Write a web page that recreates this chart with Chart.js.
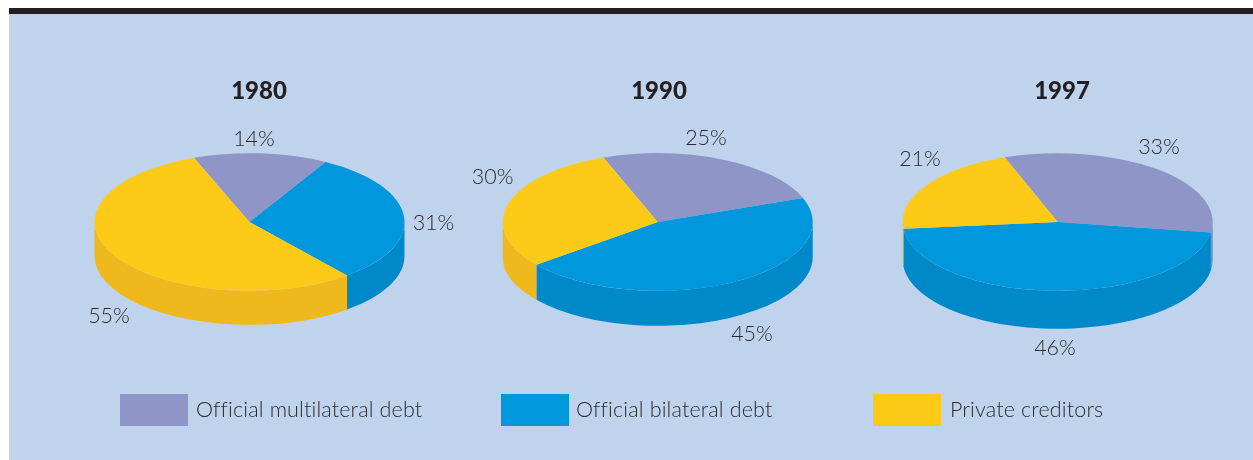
<!DOCTYPE html>
<html>
<head>
<meta charset="utf-8">
<title>Debt by creditor type</title>
<script src="https://cdn.jsdelivr.net/npm/chart.js@4/dist/chart.umd.min.js"></script>
<style>
  html, body { margin: 0; padding: 0; background: #fff; }
  #page { position: relative; width: 1253px; height: 460px; overflow: hidden; background: #fff; }
  #rule { position: absolute; left: 9px; top: 8px; right: 0; height: 6px; background: #231f20; }
  #panel { position: absolute; left: 9px; top: 14px; right: 0; bottom: 0; background: #bfd3ec; }
  canvas { position: absolute; top: 0; }
  .swatch { position: absolute; top: 394px; width: 68px; height: 32px; }
  .legend-label { position: absolute; top: 395px; font: 300 21.5px/28px Lato, sans-serif; font-variant-ligatures: none; letter-spacing: 0.15px; color: #2b2b2b; white-space: nowrap; }
</style>
</head>
<body>
<div id="page">
  <div id="rule"></div>
  <div id="panel"></div>
  <canvas id="pie1980" width="408" height="460" style="left:50px"></canvas>
  <canvas id="pie1990" width="400" height="460" style="left:458px"></canvas>
  <canvas id="pie1997" width="395" height="460" style="left:858px"></canvas>
  <div id="legend"></div>
</div>

<script>
const categories = ["Official multilateral debt", "Official bilateral debt", "Private creditors"];
const years = ["1980", "1990", "1997"];
const values1980 = [14, 31, 55];
const values1990 = [25, 45, 30];
const values1997 = [33, 46, 21];

const topColors = ["#9095c8", "#0097dc", "#feca18"];
const sideColors = ["#8387bb", "#0089c8", "#efb81c"];
const TEXT_COLOR = "#2b2b2b";

const RADIUS = 155;
const SQUASH = 0.444;
const CENTER_Y = 222;

// cellLeft = canvas left edge, labelOffsets = label centres relative to the pie centre
const pies = [
  { id: "pie1980", year: years[0], values: values1980, cellLeft: 50, cellWidth: 408, centerX: 249.5, rotation: -21, depth: 34,
    titleX: 259, labelOffsets: [[4.5, -83], [184, 1], [-140.5, 94]] },
  { id: "pie1990", year: years[1], values: values1990, cellLeft: 458, cellWidth: 400, centerX: 657.7, rotation: -20.5, depth: 35,
    titleX: 659, labelOffsets: [[48.3, -84], [94.3, 112], [-165, -45]] },
  { id: "pie1997", year: years[2], values: values1997, cellLeft: 858, cellWidth: 395, centerX: 1057.7, rotation: -20, depth: 38,
    titleX: 1062, labelOffsets: [[101.3, -75], [-2.7, 126], [-137.7, -63]] },
];

// draws the pie wall under the top face, only the part of each slice facing the viewer
function drawWall(ctx, arc, color, depth) {
  const { x, y, outerRadius, startAngle, endAngle } = arc.getProps(["x", "y", "outerRadius", "startAngle", "endAngle"]);
  const ry = outerRadius * SQUASH;
  ctx.fillStyle = color;
  for (let turn = -1; turn <= 1; turn++) {
    const from = Math.max(startAngle, turn * 2 * Math.PI);
    const to = Math.min(endAngle, turn * 2 * Math.PI + Math.PI);
    if (to <= from) continue;
    ctx.beginPath();
    ctx.ellipse(x, y, outerRadius, ry, 0, from, to);
    ctx.ellipse(x, y + depth, outerRadius, ry, 0, to, from, true);
    ctx.closePath();
    ctx.fill();
  }
}

const tiltedPie = {
  id: "tiltedPie",
  beforeDatasetsDraw(chart, args, opts) {
    const ctx = chart.ctx;
    const arcs = chart.getDatasetMeta(0).data;
    arcs.forEach((arc, i) => drawWall(ctx, arc, sideColors[i], opts.depth));

    // the library's arcs are squashed vertically around the pie centre
    const cy = arcs[0].y;
    ctx.save();
    ctx.translate(0, cy);
    ctx.scale(1, SQUASH);
    ctx.translate(0, -cy);
  },
  afterDatasetsDraw(chart, args, opts) {
    const ctx = chart.ctx;
    ctx.restore();

    const cx = opts.centerX - opts.cellLeft;
    ctx.save();
    ctx.textAlign = "center";
    ctx.textBaseline = "middle";
    ctx.fillStyle = "#231f20";
    ctx.font = "900 24px Lato, sans-serif";
    ctx.fillText(opts.year, opts.titleX - opts.cellLeft, 91);

    ctx.fillStyle = TEXT_COLOR;
    ctx.font = "300 21.5px Lato, sans-serif";
    chart.data.datasets[0].data.forEach((v, i) => {
      const [dx, dy] = opts.labelOffsets[i];
      ctx.fillText(v + "%", cx + dx, CENTER_Y + dy);
    });
    ctx.restore();
  },
};

pies.forEach((pie) => {
  const canvas = document.getElementById(pie.id);
  const left = pie.centerX - pie.cellLeft - RADIUS;
  new Chart(canvas, {
    type: "pie",
    data: {
      labels: categories,
      datasets: [{
        data: pie.values,
        backgroundColor: topColors,
        borderWidth: 0,
        hoverOffset: 0,
      }],
    },
    options: {
      responsive: false,
      animation: false,
      events: [],
      rotation: pie.rotation,
      layout: {
        padding: {
          left,
          right: pie.cellWidth - left - 2 * RADIUS,
          top: CENTER_Y - RADIUS,
          bottom: canvas.height - CENTER_Y - RADIUS,
        },
      },
      plugins: {
        legend: { display: false },
        tooltip: { enabled: false },
        tiltedPie: pie,
      },
    },
    plugins: [tiltedPie],
  });
});

const legend = document.getElementById("legend");
const swatchLefts = [120, 501, 873];
const labelLefts = [196, 576, 950];
categories.forEach((name, i) => {
  legend.innerHTML += `
    <div class="swatch" style="left:${swatchLefts[i]}px;background:${topColors[i]}"></div>
    <div class="legend-label" style="left:${labelLefts[i]}px">${name}</div>
  `;
});
</script>
</body>
</html>
